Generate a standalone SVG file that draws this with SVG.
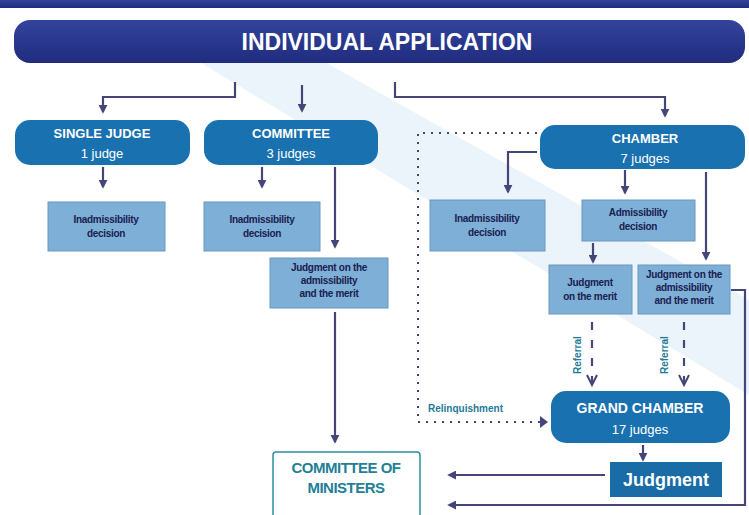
<svg xmlns="http://www.w3.org/2000/svg" width="749" height="515" viewBox="0 0 749 515">
<defs>
<linearGradient id="navy" x1="0" y1="0" x2="0" y2="1">
<stop offset="0" stop-color="#34449c"/><stop offset="1" stop-color="#1f2c7e"/>
</linearGradient>
<marker id="ah" viewBox="0 0 10 10" refX="8" refY="5" markerWidth="9" markerHeight="9" markerUnits="userSpaceOnUse" orient="auto">
<path d="M0,0 L10,5 L0,10 z" fill="#45457a"/>
</marker>
<style>
.lnk{fill:none;stroke:#45457a;stroke-width:2.2}
.dot{fill:none;stroke:#45457a;stroke-width:2;stroke-dasharray:2 6}
.dash{fill:none;stroke:#45457a;stroke-width:2.2;stroke-dasharray:8 10}
.blue{fill:#1a71b0}
.lt{fill:#7eafd7;stroke:#6a97be;stroke-width:1}
.wt{fill:#fff;font-family:"Liberation Sans",Arial,sans-serif;font-weight:bold;text-anchor:middle}
.wn{fill:#fff;font-family:"Liberation Sans",Arial,sans-serif;font-weight:normal;text-anchor:middle}
.dk{fill:#1a2050;font-family:"Liberation Sans",Arial,sans-serif;font-weight:bold;font-size:10px;text-anchor:middle;letter-spacing:-0.3px}
.tl{fill:#1f7a98;font-family:"Liberation Sans",Arial,sans-serif;font-weight:bold;font-size:10px}
</style>
</defs>
<rect width="749" height="515" fill="#fff"/>
<polygon points="130,20 250,20 749,300 749,395" fill="#e6f0f9" opacity="0.75"/>
<rect x="0" y="0" width="749" height="8" fill="url(#navy)"/>

<g id="connectors">
<path class="lnk" d="M235,82 V97 H103 V112" marker-end="url(#ah)"/>
<path class="lnk" d="M302,85 V111" marker-end="url(#ah)"/>
<path class="lnk" d="M395,82 V97 H665 V116" marker-end="url(#ah)"/>
<path class="lnk" d="M103,167 V187" marker-end="url(#ah)"/>
<path class="lnk" d="M262,167 V187" marker-end="url(#ah)"/>
<path class="lnk" d="M335,167 V247" marker-end="url(#ah)"/>
<path class="lnk" d="M335,312 V442" marker-end="url(#ah)"/>
<path class="dot" d="M537,133 H418 V422 H540"/>
<path d="M540,416 L548,422 L540,428 z" fill="#45457a"/>
<path class="lnk" d="M537,152 H508 V192" marker-end="url(#ah)"/>
<path class="lnk" d="M625,170 V193" marker-end="url(#ah)"/>
<path class="lnk" d="M706,172 V259" marker-end="url(#ah)"/>
<path class="lnk" d="M593,243 V262" marker-end="url(#ah)"/>
<path class="dash" d="M592,322 V384"/>
<path d="M587,375 L592,385 L597,375" fill="none" stroke="#45457a" stroke-width="2"/>
<path class="dash" d="M684,322 V384"/>
<path d="M679,375 L684,385 L689,375" fill="none" stroke="#45457a" stroke-width="2"/>
<path class="lnk" d="M643,445 V460" marker-end="url(#ah)"/>
<path class="lnk" d="M605,475 H449" marker-end="url(#ah)"/>
<path class="lnk" d="M731,290 H745 V505 H449" marker-end="url(#ah)"/>
<text class="tl" x="428" y="412">Relinquishment</text>
<text class="tl" transform="translate(581,374) rotate(-90)">Referral</text>
<text class="tl" transform="translate(668,374) rotate(-90)">Referral</text>
</g>

<g id="individual-application">
<rect x="14" y="20" width="731" height="43" rx="16" fill="url(#navy)"/>
<text class="wt" x="387" y="50" font-size="23">INDIVIDUAL APPLICATION</text>
</g>
<g id="single-judge">
<rect class="blue" x="15" y="120" width="175" height="45" rx="15"/>
<text class="wt" x="102" y="138" font-size="13">SINGLE JUDGE</text>
<text class="wn" x="102" y="158" font-size="13">1 judge</text>
</g>
<g id="committee">
<rect class="blue" x="204" y="120" width="174" height="45" rx="15"/>
<text class="wt" x="291" y="138" font-size="13">COMMITTEE</text>
<text class="wn" x="291" y="158" font-size="13">3 judges</text>
</g>
<g id="chamber">
<rect class="blue" x="540" y="125" width="205" height="44" rx="15"/>
<text class="wt" x="645" y="143" font-size="13">CHAMBER</text>
<text class="wn" x="645" y="163" font-size="13">7 judges</text>
</g>
<g id="sj-inadmissibility">
<rect class="lt" x="48" y="202" width="117" height="49"/>
<text class="dk" x="106" y="223">Inadmissibility</text>
<text class="dk" x="106" y="237">decision</text>
</g>
<g id="com-inadmissibility">
<rect class="lt" x="204" y="202" width="116" height="49"/>
<text class="dk" x="262" y="223">Inadmissibility</text>
<text class="dk" x="262" y="237">decision</text>
</g>
<g id="com-judgment">
<rect class="lt" x="270" y="258" width="118" height="50"/>
<text class="dk" x="329" y="271">Judgment on the</text>
<text class="dk" x="329" y="284">admissibility</text>
<text class="dk" x="329" y="297">and the merit</text>
</g>
<g id="ch-inadmissibility">
<rect class="lt" x="430" y="200" width="115" height="51"/>
<text class="dk" x="487" y="222">Inadmissibility</text>
<text class="dk" x="487" y="236">decision</text>
</g>
<g id="ch-admissibility">
<rect class="lt" x="582" y="200" width="113" height="41"/>
<text class="dk" x="638" y="216">Admissibility</text>
<text class="dk" x="638" y="230">decision</text>
</g>
<g id="ch-judgment-merit">
<rect class="lt" x="549" y="265" width="83" height="49"/>
<text class="dk" x="590" y="286">Judgment</text>
<text class="dk" x="590" y="300">on the merit</text>
</g>
<g id="ch-judgment-adm">
<rect class="lt" x="638" y="265" width="92" height="49"/>
<text class="dk" x="684" y="278">Judgment on the</text>
<text class="dk" x="684" y="291">admissibility</text>
<text class="dk" x="684" y="304">and the merit</text>
</g>
<g id="grand-chamber">
<rect class="blue" x="551" y="391" width="179" height="52" rx="15"/>
<text class="wt" x="640" y="413" font-size="14">GRAND CHAMBER</text>
<text class="wn" x="640" y="434" font-size="13">17 judges</text>
</g>
<g id="judgment">
<rect x="610" y="462" width="112" height="35" fill="#1a6ca6"/>
<text class="wt" x="666" y="486" font-size="18">Judgment</text>
</g>
<g id="committee-of-ministers">
<rect x="273" y="452" width="147" height="70" rx="3" fill="#fff" stroke="#2a8ea0" stroke-width="1.5"/>
<text x="346" y="473" font-family="Liberation Sans,Arial,sans-serif" font-weight="bold" font-size="15" fill="#237f97" text-anchor="middle" letter-spacing="-0.5">COMMITTEE OF</text>
<text x="346" y="493" font-family="Liberation Sans,Arial,sans-serif" font-weight="bold" font-size="15" fill="#237f97" text-anchor="middle" letter-spacing="-0.5">MINISTERS</text>
</g>
</svg>
